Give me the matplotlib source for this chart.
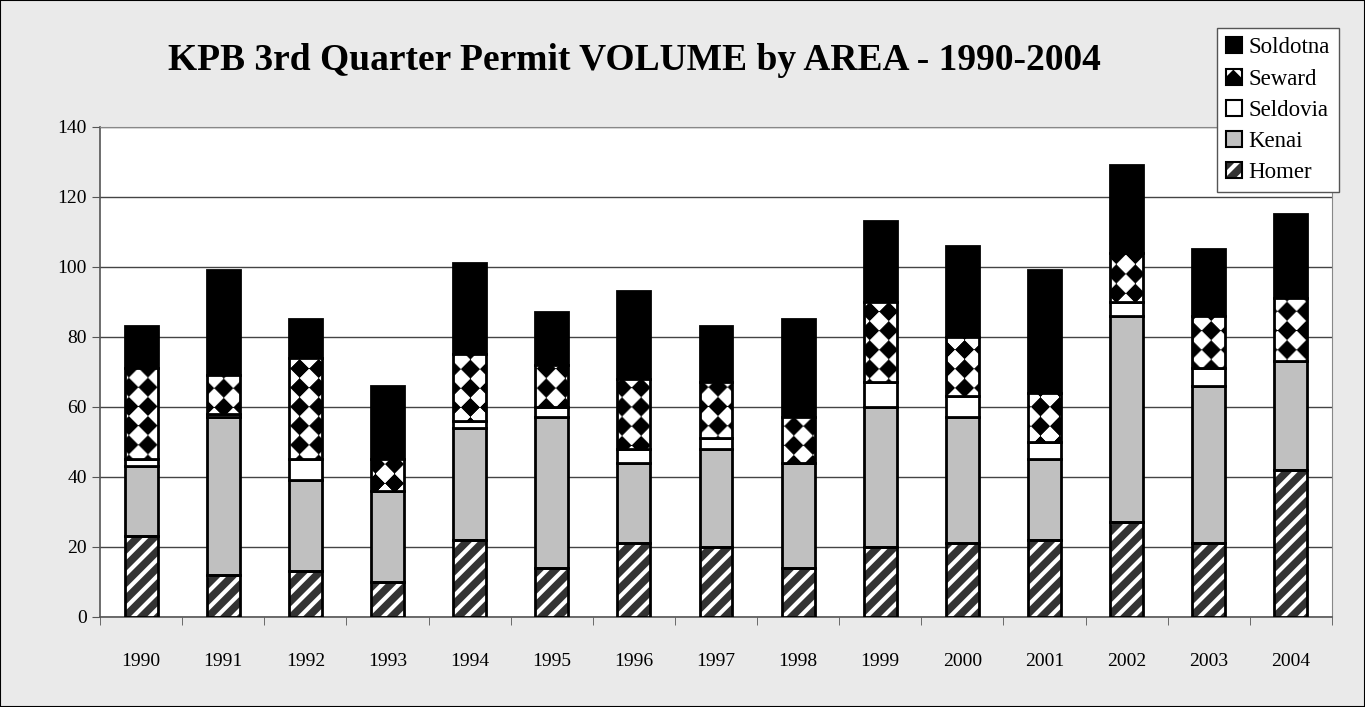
import numpy as np
from matplotlib import pyplot as plt
from matplotlib.patches import Patch, Rectangle

years = [str(y) for y in range(1990, 2005)]
homer = [23, 12, 13, 10, 22, 14, 21, 20, 14, 20, 21, 22, 27, 21, 42]
kenai = [20, 45, 26, 26, 32, 43, 23, 28, 30, 40, 36, 23, 59, 45, 31]
seldovia = [2, 1, 6, 0, 2, 3, 4, 3, 0, 7, 6, 5, 4, 5, 0]
seward = [26, 11, 29, 9, 19, 12, 20, 16, 13, 23, 17, 14, 14, 15, 18]
soldotna = [12, 30, 11, 21, 26, 15, 25, 16, 28, 23, 26, 35, 25, 19, 24]

plt.rcParams['font.family'] = ['Liberation Serif', 'DejaVu Serif']
plt.rcParams['hatch.linewidth'] = 3.0

fig = plt.figure(figsize=(13.65, 7.07), dpi=100, facecolor='#eaeaea')
fig.patches.append(Rectangle((0, 0), 1, 1, transform=fig.transFigure, fill=False,
                             edgecolor='black', linewidth=1.5))
ax = fig.add_axes([0.0733, 0.1273, 0.9025, 0.6931])

x = np.arange(len(years))
w = 0.4
ymax = 140

# diamond checker texture for Seward, built in pixel space of the axes
pw, ph = 1232, 490
px, py = np.meshgrid(np.arange(pw), np.arange(ph))
d = 19.0
checker = ((np.floor((px + py) / d) + np.floor((px - py) / d)) % 2).astype(float)

bottom = np.zeros(len(years))

ax.bar(x, homer, w, bottom=bottom, color='#333333', edgecolor='white', hatch='//',
       linewidth=0, zorder=3)
ax.bar(x, homer, w, bottom=bottom, fill=False, edgecolor='black', linewidth=2, zorder=4)
bottom += homer

ax.bar(x, kenai, w, bottom=bottom, color='#c0c0c0', edgecolor='black', linewidth=2, zorder=3)
bottom += kenai

ax.bar(x, seldovia, w, bottom=bottom, color='white', edgecolor='black', linewidth=2, zorder=3)
bottom += seldovia

sb = ax.bar(x, seward, w, bottom=bottom, color='white', edgecolor='black', linewidth=0,
            zorder=3)
for bar in sb:
    im = ax.imshow(checker, extent=(-0.5, len(years) - 0.5, 0, ymax), origin='lower',
                   cmap='gray', vmin=0, vmax=1, aspect='auto', interpolation='bilinear',
                   zorder=3.5)
    im.set_clip_path(bar)
ax.bar(x, seward, w, bottom=bottom, fill=False, edgecolor='black', linewidth=2, zorder=4)
bottom += seward

ax.bar(x, soldotna, w, bottom=bottom, color='black', edgecolor='black', linewidth=2, zorder=3)

ax.set_xlim(-0.5, len(years) - 0.5)
ax.set_ylim(0, ymax)
ax.set_yticks(range(0, ymax + 1, 20))
ax.set_xticks(x)
ax.set_xticklabels(years)
ax.set_xticks(np.arange(-0.5, len(years), 1), minor=True)
ax.tick_params(axis='x', which='major', length=0, labelsize=14, pad=26)
ax.tick_params(axis='x', which='minor', length=6, direction='out', color='#555555')
ax.tick_params(axis='y', length=6, direction='out', labelsize=14, color='#555555')
ax.grid(axis='y', color='#444444', linewidth=1, zorder=0)
ax.set_axisbelow(True)
for s in ['left', 'bottom']:
    ax.spines[s].set_color('#555555')
    ax.spines[s].set_linewidth(1.2)
for s in ['top', 'right']:
    ax.spines[s].set_color('#888888')

fig.text(0.465, 0.914, 'KPB 3rd Quarter Permit VOLUME by AREA - 1990-2004',
         ha='center', va='center', fontsize=27, fontweight='bold')

handles = [
    Patch(facecolor='black', edgecolor='black', linewidth=1.5),
    (Patch(facecolor='black', edgecolor='white', hatch='x', linewidth=0),
     Patch(fill=False, edgecolor='black', linewidth=1.5)),
    Patch(facecolor='white', edgecolor='black', linewidth=1.5),
    Patch(facecolor='#c0c0c0', edgecolor='black', linewidth=1.5),
    (Patch(facecolor='#333333', edgecolor='white', hatch='//', linewidth=0),
     Patch(fill=False, edgecolor='black', linewidth=1.5)),
]
labels = ['Soldotna', 'Seward', 'Seldovia', 'Kenai', 'Homer']
leg = fig.legend(handles, labels, loc='upper left',
                 bbox_to_anchor=(0.8916, 0.960), fontsize=16.5, frameon=True,
                 fancybox=False, edgecolor='#555555', framealpha=1,
                 handlelength=0.7, handleheight=0.7, handletextpad=0.28,
                 labelspacing=0.44, borderpad=0.4, borderaxespad=0)
leg.get_frame().set_linewidth(1)

fig.savefig('out.png', dpi=100, facecolor=fig.get_facecolor())
